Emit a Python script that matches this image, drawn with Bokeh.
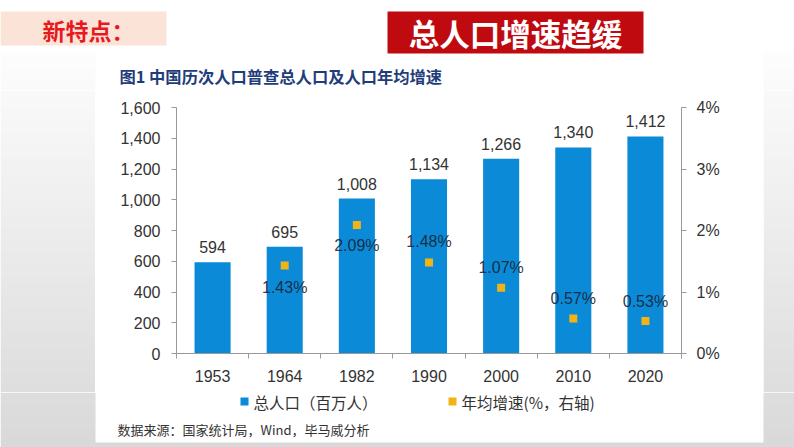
from bokeh.plotting import figure
from bokeh.layouts import column, row
from bokeh.models import (Range1d, LinearAxis, FixedTicker, NumeralTickFormatter, PrintfTickFormatter,
                          ColumnDataSource)
from bokeh.embed import file_html
from bokeh.resources import INLINE
from bokeh.core.properties import value

# ---------------- data ----------------
years = ["1953", "1964", "1982", "1990", "2000", "2010", "2020"]
population = [594, 695, 1008, 1134, 1266, 1340, 1412]          # 百万人
growth_years = ["1964", "1982", "1990", "2000", "2010", "2020"]
growth = [1.43, 2.09, 1.48, 1.07, 0.57, 0.53]                   # %
left_ticks = [0, 200, 400, 600, 800, 1000, 1200, 1400, 1600]
right_ticks = [0, 1, 2, 3, 4]

header_left = "新特点："
header_right = "总人口增速趋缓"
chart_title = "图1  中国历次人口普查总人口及人口年均增速"
legend_pop = "总人口（百万人）"
legend_growth = "年均增速(%，右轴)"
source_note = "数据来源：国家统计局，Wind，毕马威分析"

# ---------------- styles ----------------
BAR = "#0B8AD8"
DOT = "#F2B316"
AX = "#999999"
TXT = "#333333"
NUM_FONT = "Liberation Sans"
CJK_FONT = "Noto Sans CJK SC"

PAGE_W, PAGE_H = 794, 447
PANEL_L, PANEL_R, PANEL_B = 95, 763, 442
HEAD_B = 90          # header strip bottom
MAIN_B = 392         # bottom of main chart figure (x axis area)
FRAME_L, FRAME_R, FRAME_T, FRAME_B = 176, 681, 107, 353


def gray_at(y):
    t = max(0.0, min(1.0, (y - 50) / (PANEL_B - 50)))
    g = int(round(253 - 36 * t))
    return "#%02x%02x%02x" % (g, g, g)


def deco(x0, x1, y0, y1):
    f = figure(width=x1 - x0, height=y1 - y0, x_range=Range1d(x0, x1), y_range=Range1d(y1, y0),
               output_backend="svg", toolbar_location=None, min_border=0,
               x_axis_location=None, y_axis_location=None)
    f.outline_line_color = None
    f.grid.visible = False
    f.background_fill_color = "white"
    f.border_fill_color = "white"
    return f


def gradient_bands(f, x0, x1, ya, yb, step=6):
    L, R, T, B, C = [], [], [], [], []
    y = ya
    while y < yb:
        y2 = min(y + step, yb)
        L.append(x0); R.append(x1); T.append(y); B.append(y2 + 0.6); C.append(gray_at((y + y2) / 2))
        y = y2
    f.quad(left=L, right=R, top=T, bottom=B, fill_color=C, line_color=None)


# ---------------- header ----------------
head = deco(0, PAGE_W, 0, HEAD_B)
gradient_bands(head, 0, PANEL_L, 50, HEAD_B)
gradient_bands(head, PANEL_R, PAGE_W, 50, HEAD_B)
head.quad(left=[0], right=[166], top=[11], bottom=[45], fill_color="#FBE3D8", line_color=None)
head.quad(left=[387], right=[643], top=[11], bottom=[53], fill_color="#BF0A10", line_color=None)
head.text(x=[42], y=[29], text=[header_left], text_font=value(CJK_FONT), text_font_style="bold",
          text_font_size="23px", text_color="#E8191E", text_align="left", text_baseline="middle")
head.text(x=[515], y=[32], text=[header_right], text_font=value(CJK_FONT), text_font_style="bold",
          text_font_size="30.5px", text_color="white", text_align="center", text_baseline="middle")
head.text(x=[119], y=[75], text=[chart_title], text_font=value(CJK_FONT), text_font_style="bold",
          text_font_size="16.3px", text_color="#1F3D7A", text_align="left", text_baseline="middle")

# ---------------- side strips ----------------
left_strip = deco(0, PANEL_L, HEAD_B, MAIN_B)
gradient_bands(left_strip, 0, PANEL_L, HEAD_B, MAIN_B)
right_strip = deco(PANEL_R, PAGE_W, HEAD_B, MAIN_B)
gradient_bands(right_strip, PANEL_R, PAGE_W, HEAD_B, MAIN_B)

# ---------------- main chart ----------------
p = figure(width=PANEL_R - PANEL_L, height=MAIN_B - HEAD_B, output_backend="svg", toolbar_location=None,
           x_range=Range1d(0, len(years)), y_range=Range1d(left_ticks[0], left_ticks[-1]),
           x_axis_location=None, y_axis_location=None,
           min_border_left=FRAME_L - PANEL_L, min_border_right=PANEL_R - FRAME_R,
           min_border_top=FRAME_T - HEAD_B, min_border_bottom=MAIN_B - FRAME_B)
p.extra_y_ranges = {"pct": Range1d(right_ticks[0], right_ticks[-1])}
p.outline_line_color = None
p.grid.visible = False
p.background_fill_color = "white"
p.border_fill_color = "white"

src = ColumnDataSource(dict(
    x=[i + 0.5 for i in range(len(years))],
    pop=population,
    lab=[f"{v:,}" for v in population],
))
label_offsets = [22, 21, -21, -20, -20, -19]   # style: below for first two points, above for the rest
gsrc = ColumnDataSource(dict(
    x=[years.index(y) + 0.5 for y in growth_years],
    g=growth,
    lab=[f"{v:.2f}%" for v in growth],
    off=label_offsets,
))

bars = p.vbar(x="x", top="pop", width=0.5, source=src, fill_color=BAR, line_color=None)
p.text(x="x", y="pop", text="lab", source=src, text_align="center", text_baseline="middle",
       y_offset=-15, text_font=value(NUM_FONT), text_font_size="16px", text_color=TXT)

pts = p.scatter(x="x", y="g", source=gsrc, y_range_name="pct", marker="square", size=8,
                fill_color=DOT, line_color=None)
p.text(x="x", y="g", text="lab", source=gsrc, y_range_name="pct", text_align="center",
       text_baseline="middle", y_offset="off", text_font=value(NUM_FONT), text_font_size="16px",
       text_color="#1a2330", text_alpha=0.9)

xaxis = LinearAxis(ticker=FixedTicker(ticks=[i + 0.5 for i in range(len(years))],
                                      minor_ticks=list(range(len(years) + 1))),
                   major_label_overrides={i + 0.5: y for i, y in enumerate(years)})
p.add_layout(xaxis, "below")
yaxis = LinearAxis(ticker=FixedTicker(ticks=left_ticks), formatter=NumeralTickFormatter(format="0,0"))
p.add_layout(yaxis, "left")
raxis = LinearAxis(y_range_name="pct", ticker=FixedTicker(ticks=right_ticks),
                   formatter=PrintfTickFormatter(format="%d%%"))
p.add_layout(raxis, "right")

for ax in (xaxis, yaxis, raxis):
    ax.axis_line_color = AX
    ax.major_tick_line_color = AX
    ax.major_tick_in = 0
    ax.major_tick_out = 5
    ax.minor_tick_line_color = None
    ax.major_label_text_font = NUM_FONT
    ax.major_label_text_font_size = "16px"
    ax.major_label_text_color = TXT
    ax.major_label_standoff = 11
xaxis.major_tick_line_color = None
xaxis.minor_tick_line_color = AX
xaxis.minor_tick_in = 0
xaxis.minor_tick_out = 5
raxis.major_label_standoff = 10

# ---------------- footer (legend + source), full page width ----------------
foot = deco(0, PAGE_W, MAIN_B, PAGE_H)
gradient_bands(foot, 0, PANEL_L, MAIN_B, PANEL_B)
gradient_bands(foot, PANEL_R, PAGE_W, MAIN_B, PANEL_B)
foot.quad(left=[0], right=[PAGE_W], top=[PANEL_B], bottom=[PAGE_H], fill_color=gray_at(PANEL_B),
          line_color=None)
foot.quad(left=[240, 448], right=[248, 456], top=[397, 397], bottom=[405, 405],
          fill_color=[BAR, DOT], line_color=None)
foot.text(x=[253, 461], y=[401, 401], text=[legend_pop, legend_growth], text_font=value(CJK_FONT),
          text_font_size="15.5px", text_color=TXT, text_align="left", text_baseline="middle")
foot.text(x=[117], y=[429], text=[source_note], text_font=value(CJK_FONT),
          text_font_size="13px", text_color=TXT, text_align="left", text_baseline="middle")

layout = column(head,
                row(left_strip, column(p), right_strip, spacing=0),
                foot, spacing=0)

open("out.html", "w").write(file_html(layout, INLINE))
